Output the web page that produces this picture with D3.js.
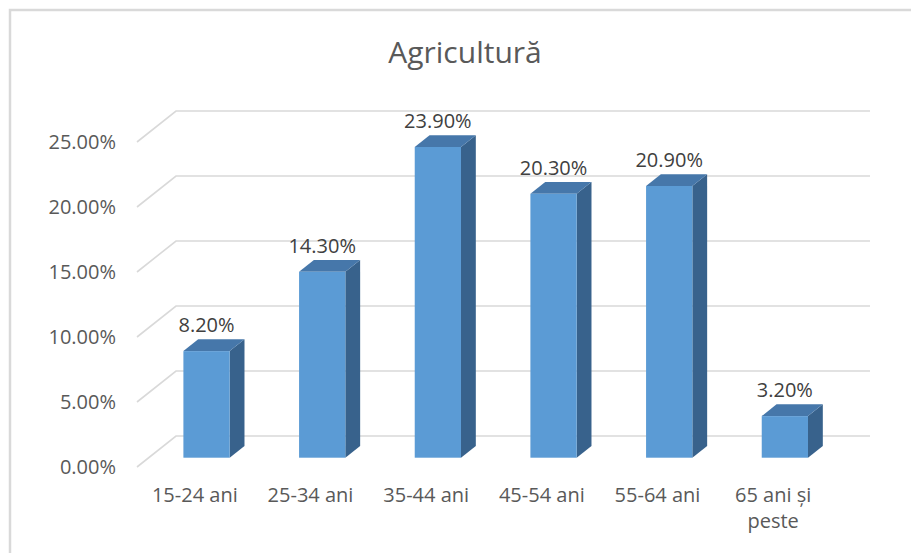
<!DOCTYPE html>
<html>
<head>
<meta charset="utf-8">
<script src="https://cdn.jsdelivr.net/npm/d3@7/dist/d3.min.js"></script>
<style>
  html, body { margin: 0; padding: 0; background: #fff; }
  svg { display: block; }
</style>
</head>
<body>
<svg id="chart" width="911" height="553"></svg>
<script>
const title = "Agricultură";
const categories = ["15-24 ani", "25-34 ani", "35-44 ani", "45-54 ani", "55-64 ani", "65 ani și peste"];
const values = [8.2, 14.3, 23.9, 20.3, 20.9, 3.2];
const tickValues = [0, 5, 10, 15, 20, 25];

const svg = d3.select("#chart");
const font = "'Open Sans', 'Noto Sans', sans-serif";

// chart border (extends beyond the cropped image on right/bottom)
svg.append("rect")
  .attr("x", 10).attr("y", 10).attr("width", 1000).attr("height", 1000)
  .attr("fill", "none").attr("stroke", "#d9d9d9").attr("stroke-width", 2.5);

// title
svg.append("text")
  .attr("x", 465).attr("y", 63)
  .attr("text-anchor", "middle")
  .attr("font-family", font).attr("font-size", 30)
  .attr("fill", "#595959")
  .text(title);

// front plane scales
const y = d3.scaleLinear().domain([0, 25]).range([467, 142]);
const x = d3.scaleBand().domain(categories).range([137, 831]).paddingInner(0).paddingOuter(0);

// depth vector (front → back wall)
const DX = 39, DY = -31;
const f0 = 0.30, f1 = 0.68; // bar front/back depth fraction
const barFrac = 0.4;

// gridlines: diagonal side wall + back wall horizontal
const grid = svg.append("g").attr("stroke", "#d9d9d9").attr("stroke-width", 1.6).attr("fill", "none");
tickValues.forEach(t => {
  const yf = y(t);
  grid.append("path")
    .attr("d", `M${x.range()[0]},${yf} L${x.range()[0] + DX},${yf + DY} L${x.range()[1] + DX},${yf + DY}`);
});

// y axis labels
const yAxis = d3.axisLeft(y).tickValues(tickValues).tickSize(0).tickPadding(21)
  .tickFormat(d => d3.format(".2f")(d) + "%");
const gy = svg.append("g").attr("transform", `translate(${x.range()[0]},0)`).call(yAxis);
gy.select(".domain").remove();
gy.selectAll("text").attr("font-family", font).attr("font-size", 20).attr("fill", "#595959");

// x axis labels
const xAxis = d3.axisBottom(x).tickSize(0).tickPadding(21);
const gx = svg.append("g").attr("transform", `translate(0,${y(0)})`).call(xAxis);
gx.select(".domain").remove();
gx.selectAll("text").attr("font-family", font).attr("font-size", 20).attr("fill", "#595959")
  .each(function(d) {
    const t = d3.select(this);
    if (d === "65 ani și peste") {
      t.text(null);
      t.append("tspan").attr("x", 0).attr("dy", "0.71em").text("65 ani și");
      t.append("tspan").attr("x", 0).attr("dy", "1.3em").text("peste");
      t.attr("dy", null);
    }
  });

// bars
const bw = x.bandwidth() * barFrac;
const bars = svg.append("g");
categories.forEach((c, i) => {
  const v = values[i];
  const cx = x(c) + x.bandwidth() / 2 + DX * f0;
  const x0 = cx - bw / 2, x1 = cx + bw / 2;
  const yb = y(0) + DY * f0;
  const yt = y(v) + DY * f0;
  const ddx = DX * (f1 - f0), ddy = DY * (f1 - f0);
  // side
  bars.append("path")
    .attr("d", `M${x1},${yb} L${x1 + ddx},${yb + ddy} L${x1 + ddx},${yt + ddy} L${x1},${yt} Z`)
    .attr("fill", "#38628c");
  // top
  bars.append("path")
    .attr("d", `M${x0},${yt} L${x1},${yt} L${x1 + ddx},${yt + ddy} L${x0 + ddx},${yt + ddy} Z`)
    .attr("fill", "#4677aa");
  // front
  bars.append("rect")
    .attr("x", x0).attr("y", yt).attr("width", bw).attr("height", yb - yt)
    .attr("fill", "#5b9bd5");
  // value label
  svg.append("text")
    .attr("x", cx).attr("y", yt + ddy - 7.5)
    .attr("text-anchor", "middle")
    .attr("font-family", font).attr("font-size", 20).attr("fill", "#404040")
    .text(d3.format(".2f")(v) + "%");
});
</script>
</body>
</html>
